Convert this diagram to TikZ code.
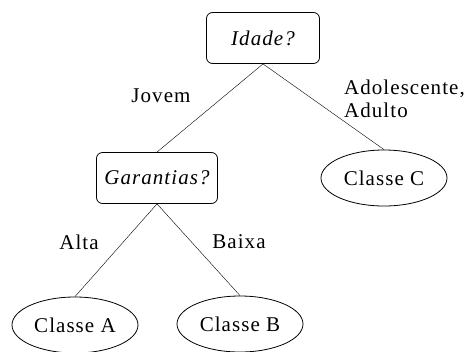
\documentclass[tikz,border=0pt]{standalone}
\usepackage{fontspec}
\setmainfont{Liberation Serif}
\newfontfamily\spacedfont[LetterSpace=5]{Liberation Serif}
\usetikzlibrary{shapes.geometric}
\begin{document}
\begin{tikzpicture}[x=1pt,y=-1pt,
    test/.style={draw,rounded corners=6pt,thick,minimum width=113pt,minimum height=51pt,inner sep=0pt,font=\fontsize{21}{23}\spacedfont\itshape},
    leaf/.style={draw,ellipse,thick,minimum width=126pt,minimum height=56pt,inner sep=0pt,font=\fontsize{21}{23}\spacedfont},
    lbl/.style={font=\fontsize{21}{23}\spacedfont,align=left,inner sep=0pt}]
  \useasboundingbox (0,0) rectangle (470,351);
  \node[test] (idade) at (263,38) {Idade?};
  \node[test,minimum width=121pt] (garantias) at (157,178) {Garantias?};
  \node[leaf] (classeC) at (384,178) {Classe C};
  \node[leaf] (classeA) at (75,325) {Classe A};
  \node[leaf] (classeB) at (240,324) {Classe B};

  \draw (idade.south) -- (garantias.north);
  \draw (idade.south) -- (classeC.north);
  \draw (garantias.south) -- (classeA.north);
  \draw (garantias.south) -- (classeB.north);

  \node[lbl] (jovem) at (161,96) {Jovem};
  \node[lbl,anchor=west] (adulto) at (344,99) {Adolescente,\\Adulto};
  \node[lbl] (alta) at (79,242) {Alta};
  \node[lbl] (baixa) at (239,242) {Baixa};
\end{tikzpicture}
\end{document}
